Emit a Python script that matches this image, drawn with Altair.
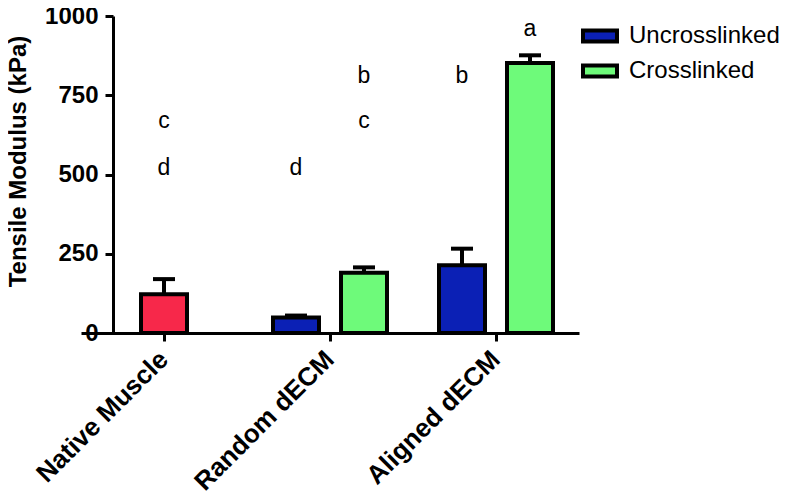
import altair as alt
import pandas as pd

groups = ["Native Muscle", "Random dECM", "Aligned dECM"]
series_names = ["Uncrosslinked", "Native Muscle", "Crosslinked"]

bar_group = ["Native Muscle", "Random dECM", "Random dECM", "Aligned dECM", "Aligned dECM"]
bar_series = ["Native Muscle", "Uncrosslinked", "Crosslinked", "Uncrosslinked", "Crosslinked"]
bar_mean = [122, 49, 190, 214, 852]
bar_err = [48, 6, 17, 52, 24]

let_group = ["Native Muscle", "Native Muscle", "Random dECM", "Random dECM", "Random dECM", "Aligned dECM", "Aligned dECM"]
let_series = ["Native Muscle", "Native Muscle", "Uncrosslinked", "Crosslinked", "Crosslinked", "Uncrosslinked", "Crosslinked"]
let_text = ["c", "d", "d", "b", "c", "b", "a"]
let_y = [647, 500, 500, 790, 647, 790, 937]

y_ticks = [0, 250, 500, 750, 1000]
colors = ["#0B20B5", "#F7284A", "#6EFA7A"]

bars = pd.DataFrame({"group": bar_group, "series": bar_series, "mean": bar_mean, "err": bar_err})
bars["upper"] = bars["mean"] + bars["err"]
letters = pd.DataFrame({"group": let_group, "series": let_series, "txt": let_text, "y": let_y})

FONT = "Liberation Sans"
YTITLE = "Tensile Modulus (kPa)"

xenc = alt.X("group:N", sort=groups, title=None,
             scale=alt.Scale(domain=groups, range=[-32, 466], paddingInner=0, paddingOuter=0),
             axis=alt.Axis(labelAngle=-45, labelAlign="right", labelBaseline="middle",
                           labelPadding=14, labelFontSize=26, labelLimit=400))
xoff = alt.XOffset("series:N", scale=alt.Scale(domain=series_names, range=[32, 134],
                                               paddingInner=0, paddingOuter=0))
yscale = alt.Scale(domain=[0, 1000], nice=False)
yaxis = alt.Axis(values=y_ticks, format="d", labelPadding=7, grid=False,
                 titleAngle=-90, titleBaseline="middle", titleAlign="center",
                 titleX=-95, titleY=145)


def yenc(field):
    return alt.Y(field, scale=yscale, title=YTITLE, axis=yaxis)


base = alt.Chart(bars)

bar_layer = base.mark_bar(width=46, stroke="black", strokeWidth=4).encode(
    x=xenc, xOffset=xoff, y=yenc("mean:Q"),
    color=alt.Color("series:N", scale=alt.Scale(domain=series_names, range=colors),
                    legend=alt.Legend(values=["Uncrosslinked", "Crosslinked"], title=None,
                                      orient="none", legendX=468, legendY=1,
                                      symbolType="M-1,-0.33H1V0.33H-1Z", symbolSize=1156,
                                      symbolStrokeColor="black", symbolStrokeWidth=4,
                                      symbolOpacity=1, labelFontSize=24, labelFont=FONT,
                                      labelColor="black", rowPadding=2, labelOffset=10)),
)

err_layer = base.mark_rule(strokeWidth=4, color="black").encode(
    x=xenc, xOffset=xoff, y=yenc("mean:Q"), y2="upper:Q")

cap_layer = base.mark_tick(orient="horizontal", size=22, thickness=4, color="black", opacity=1).encode(
    x=xenc, xOffset=xoff, y=yenc("upper:Q"))

text_layer = alt.Chart(letters).mark_text(fontSize=23, font=FONT, color="black", baseline="alphabetic").encode(
    x=xenc, xOffset=xoff, y=yenc("y:Q"), text="txt:N")

chart = alt.layer(err_layer, cap_layer, bar_layer, text_layer).properties(
    width=481, height=317,
    autosize=alt.AutoSizeParams(type="none"),
    padding={"left": 105, "top": 8, "right": 185, "bottom": 162},
).configure_view(stroke=None).configure_axis(
    grid=False, labelFontSize=24, labelFontWeight="bold", labelFont=FONT, labelColor="black",
    tickSize=8, tickWidth=3, tickColor="black", domainColor="black", domainWidth=3,
    titleFontSize=24, titleFont=FONT, titleFontWeight="bold", titleColor="black",
)

chart.save("out.html", embed_options={"renderer": "svg", "actions": False})
